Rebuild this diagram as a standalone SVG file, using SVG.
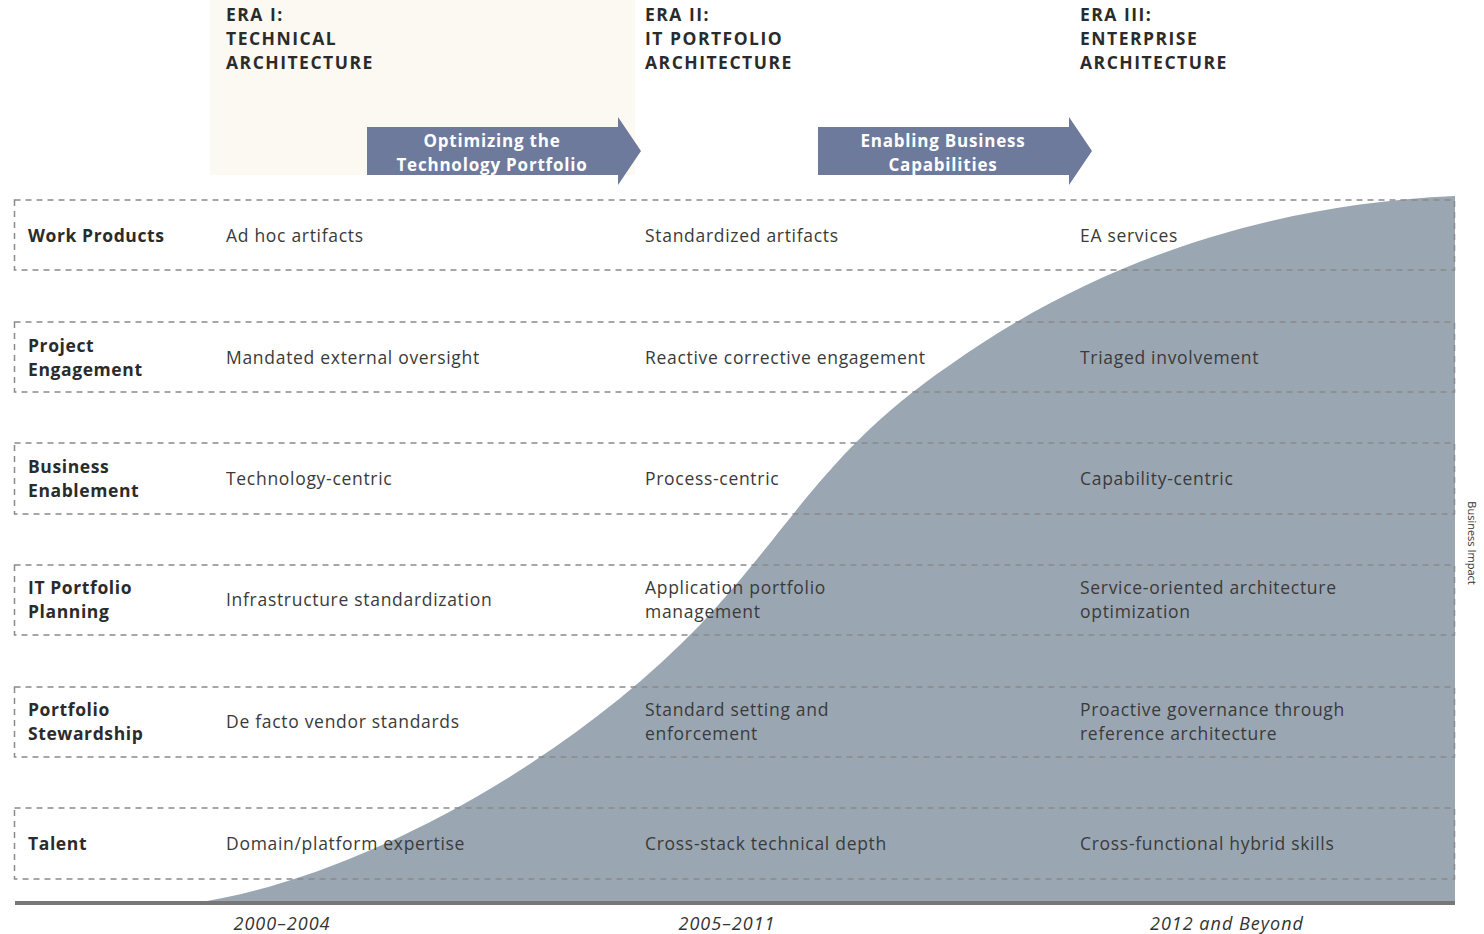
<svg xmlns="http://www.w3.org/2000/svg" width="1484" height="934" viewBox="0 0 1484 934">
<style>
.hd{font-family:"Open Sans","Liberation Sans",sans-serif;font-weight:700;font-size:17.5px;fill:#2b2b2b;letter-spacing:1.5px}
.lb{font-family:"Open Sans","Liberation Sans",sans-serif;font-weight:700;font-size:17.5px;fill:#2b2b2b;letter-spacing:0.6px}
.tx{font-family:"Open Sans","Liberation Sans",sans-serif;font-weight:400;font-size:17.5px;fill:#3a3a3a;letter-spacing:0.7px}
.ar{font-family:"Open Sans","Liberation Sans",sans-serif;font-weight:700;font-size:17px;fill:#ffffff;text-anchor:middle;letter-spacing:0.8px}
.yr{font-family:"Open Sans","Liberation Sans",sans-serif;font-style:italic;font-size:18px;fill:#333;text-anchor:middle;letter-spacing:1px}
.row{fill:none;stroke:#8a8a8a;stroke-width:1.5;stroke-dasharray:6 5}
.arw{fill:#6d7a9c}
</style>
<rect x="0" y="0" width="1484" height="934" fill="#ffffff"/>
<rect x="210" y="0" width="425" height="175" fill="#fcf9f3"/>
<path d="M 195 903 C 350 880, 560 770, 700 625 C 790 530, 825 450, 950 365 C 1080 272, 1250 205, 1455 196 L 1455 903 Z" fill="#9aa7b3"/>
<g id="headers">
<text class="hd" x="226" y="21">ERA I:</text>
<text class="hd" x="226" y="45">TECHNICAL</text>
<text class="hd" x="226" y="69">ARCHITECTURE</text>
<text class="hd" x="645" y="21">ERA II:</text>
<text class="hd" x="645" y="45">IT PORTFOLIO</text>
<text class="hd" x="645" y="69">ARCHITECTURE</text>
<text class="hd" x="1080" y="21">ERA III:</text>
<text class="hd" x="1080" y="45">ENTERPRISE</text>
<text class="hd" x="1080" y="69">ARCHITECTURE</text>
</g>
<g id="arrow1">
<polygon class="arw" points="367,127 618,127 618,117 641,151 618,185 618,175 367,175"/>
<text class="ar" x="492" y="147">Optimizing the</text>
<text class="ar" x="492" y="171">Technology Portfolio</text>
</g>
<g id="arrow2">
<polygon class="arw" points="818,127 1069,127 1069,117 1092,151 1069,185 1069,175 818,175"/>
<text class="ar" x="943" y="147">Enabling Business</text>
<text class="ar" x="943" y="171">Capabilities</text>
</g>
<g id="connectors">
<rect class="row" x="14.5" y="200" width="1440" height="70"/>
<rect class="row" x="14.5" y="322" width="1440" height="70"/>
<rect class="row" x="14.5" y="443" width="1440" height="71"/>
<rect class="row" x="14.5" y="565" width="1440" height="70"/>
<rect class="row" x="14.5" y="687" width="1440" height="70"/>
<rect class="row" x="14.5" y="808" width="1440" height="71"/>
<line x1="15" y1="903" x2="1455" y2="903" stroke="#777777" stroke-width="4"/>
</g>
<g id="row-work-products">
<text class="lb" x="28" y="242">Work Products</text>
<text class="tx" x="226" y="242">Ad hoc artifacts</text>
<text class="tx" x="645" y="242">Standardized artifacts</text>
<text class="tx" x="1080" y="242">EA services</text>
</g>
<g id="row-project-engagement">
<text class="lb" x="28" y="352">Project</text>
<text class="lb" x="28" y="376">Engagement</text>
<text class="tx" x="226" y="364">Mandated external oversight</text>
<text class="tx" x="645" y="364">Reactive corrective engagement</text>
<text class="tx" x="1080" y="364">Triaged involvement</text>
</g>
<g id="row-business-enablement">
<text class="lb" x="28" y="473">Business</text>
<text class="lb" x="28" y="497">Enablement</text>
<text class="tx" x="226" y="485">Technology-centric</text>
<text class="tx" x="645" y="485">Process-centric</text>
<text class="tx" x="1080" y="485">Capability-centric</text>
</g>
<g id="row-it-portfolio-planning">
<text class="lb" x="28" y="594">IT Portfolio</text>
<text class="lb" x="28" y="618">Planning</text>
<text class="tx" x="226" y="606">Infrastructure standardization</text>
<text class="tx" x="645" y="594">Application portfolio</text>
<text class="tx" x="645" y="618">management</text>
<text class="tx" x="1080" y="594">Service-oriented architecture</text>
<text class="tx" x="1080" y="618">optimization</text>
</g>
<g id="row-portfolio-stewardship">
<text class="lb" x="28" y="716">Portfolio</text>
<text class="lb" x="28" y="740">Stewardship</text>
<text class="tx" x="226" y="728">De facto vendor standards</text>
<text class="tx" x="645" y="716">Standard setting and</text>
<text class="tx" x="645" y="740">enforcement</text>
<text class="tx" x="1080" y="716">Proactive governance through</text>
<text class="tx" x="1080" y="740">reference architecture</text>
</g>
<g id="row-talent">
<text class="lb" x="28" y="850">Talent</text>
<text class="tx" x="226" y="850">Domain/platform expertise</text>
<text class="tx" x="645" y="850">Cross-stack technical depth</text>
<text class="tx" x="1080" y="850">Cross-functional hybrid skills</text>
</g>
<g id="axis-labels">
<text class="yr" x="282" y="930">2000–2004</text>
<text class="yr" x="727" y="930">2005–2011</text>
<text class="yr" x="1227" y="930">2012 and Beyond</text>
<text x="1468" y="543" transform="rotate(90 1468 543)" text-anchor="middle" font-family="Open Sans, Liberation Sans, sans-serif" font-size="11" fill="#333">Business Impact</text>
</g>
</svg>
